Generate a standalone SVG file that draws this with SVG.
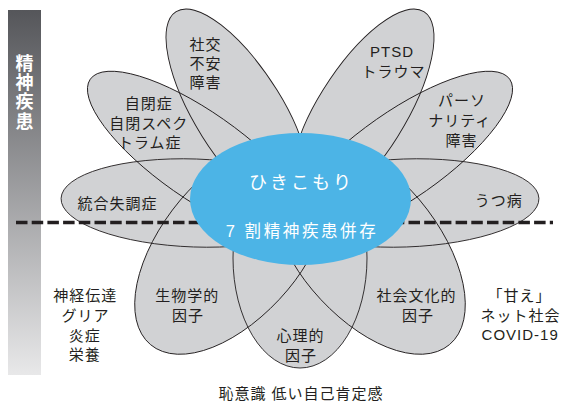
<svg xmlns="http://www.w3.org/2000/svg" xmlns:xlink="http://www.w3.org/1999/xlink" width="569" height="406" viewBox="0 0 569 406">
<defs>
<style>
.pf{fill:#d1d2d4;stroke:none}
.po{fill:none;stroke:#231f20;stroke-width:0.9}
.t{font-family:"Liberation Sans","Noto Sans CJK JP",sans-serif;font-size:15px;letter-spacing:1px;fill:#231f20;text-anchor:middle}
.w{font-family:"Liberation Sans","Noto Sans CJK JP",sans-serif;fill:#ffffff;text-anchor:middle}
.v{font-family:"Noto Sans CJK JP",sans-serif;font-size:18px;font-weight:bold;fill:#ffffff;writing-mode:vertical-rl;letter-spacing:1.3px}
</style>
<linearGradient id="bar" x1="0" y1="0" x2="0" y2="1">
<stop offset="0" stop-color="#55565a"/>
<stop offset="1" stop-color="#e8e8e9"/>
</linearGradient>
<path id="p1" transform="translate(195,203) rotate(2)" d="M -134,0 A 134,44 0 0 1 0,-44 A 134,44 0 0 1 134,0 A 134,44 0 0 1 0,44 A 134,44 0 0 1 -134,0 Z"/>
<path id="p2" transform="translate(198.4,154.9) rotate(35)" d="M -132,0 A 132,43.5 0 0 1 0,-43.5 A 138,43.5 0 0 1 138,0 A 138,43.5 0 0 1 0,43.5 A 132,43.5 0 0 1 -132,0 Z"/>
<path id="p3" transform="translate(239.7,113.4) rotate(58)" d="M -120,0 A 120,44 0 0 1 0,-44 A 110,44 0 0 1 110,0 A 110,44 0 0 1 0,44 A 120,44 0 0 1 -120,0 Z"/>
<path id="p4" transform="translate(360.3,113.4) rotate(122)" d="M -120,0 A 120,44 0 0 1 0,-44 A 110,44 0 0 1 110,0 A 110,44 0 0 1 0,44 A 120,44 0 0 1 -120,0 Z"/>
<path id="p5" transform="translate(401.6,154.9) rotate(145)" d="M -132,0 A 132,43.5 0 0 1 0,-43.5 A 138,43.5 0 0 1 138,0 A 138,43.5 0 0 1 0,43.5 A 132,43.5 0 0 1 -132,0 Z"/>
<path id="p6" transform="translate(405,203) rotate(178)" d="M -134,0 A 134,44 0 0 1 0,-44 A 134,44 0 0 1 134,0 A 134,44 0 0 1 0,44 A 134,44 0 0 1 -134,0 Z"/>
<path id="p7" transform="translate(234,245) rotate(-50)" d="M -130,0 A 130,70 0 0 1 0,-70 A 120,70 0 0 1 120,0 A 120,70 0 0 1 0,70 A 130,70 0 0 1 -130,0 Z"/>
<path id="p8" transform="translate(300,258) rotate(-90)" d="M -110,0 A 110,67 0 0 1 0,-67 A 110,67 0 0 1 110,0 A 110,67 0 0 1 0,67 A 110,67 0 0 1 -110,0 Z"/>
<path id="p9" transform="translate(366,245) rotate(-130)" d="M -130,0 A 130,70 0 0 1 0,-70 A 120,70 0 0 1 120,0 A 120,70 0 0 1 0,70 A 130,70 0 0 1 -130,0 Z"/>
</defs>
<rect width="569" height="406" fill="#ffffff"/>
<g id="axis-bar">
<rect x="8" y="10" width="33" height="365" fill="url(#bar)"/>
<text class="v" x="24.5" y="54">精神疾患</text>
</g>
<g id="petal-fills">
<use xlink:href="#p1" class="pf"/>
<use xlink:href="#p2" class="pf"/>
<use xlink:href="#p3" class="pf"/>
<use xlink:href="#p4" class="pf"/>
<use xlink:href="#p5" class="pf"/>
<use xlink:href="#p6" class="pf"/>
<use xlink:href="#p7" class="pf"/>
<use xlink:href="#p8" class="pf"/>
<use xlink:href="#p9" class="pf"/>
</g>
<g id="connectors">
<line x1="16" y1="222.5" x2="553" y2="222.5" stroke="#231f20" stroke-width="3.6" stroke-dasharray="11.5 4.2"/>
</g>
<g id="node-schizophrenia">
<use xlink:href="#p1" class="po"/>
<text class="t" x="117.5" y="208.5">統合失調症</text>
</g>
<g id="node-autism">
<use xlink:href="#p2" class="po"/>
<text class="t" x="148.8" y="108.5">自閉症</text>
<text class="t" x="148.8" y="128.5">自閉スペク</text>
<text class="t" x="149.8" y="147.5">トラム症</text>
</g>
<g id="node-social-anxiety">
<use xlink:href="#p3" class="po"/>
<text class="t" x="205.5" y="49.5">社交</text>
<text class="t" x="205.5" y="68.5">不安</text>
<text class="t" x="205.5" y="88">障害</text>
</g>
<g id="node-ptsd">
<use xlink:href="#p4" class="po"/>
<text class="t" x="392" y="56.5">PTSD</text>
<text class="t" x="393.5" y="77">トラウマ</text>
</g>
<g id="node-personality">
<use xlink:href="#p5" class="po"/>
<text class="t" x="462" y="106">パーソ</text>
<text class="t" x="459.8" y="126">ナリティ</text>
<text class="t" x="461.5" y="146">障害</text>
</g>
<g id="node-depression">
<use xlink:href="#p6" class="po"/>
<text class="t" x="498.8" y="206">うつ病</text>
</g>
<g id="node-biological">
<use xlink:href="#p7" class="po"/>
<text class="t" x="187.2" y="301">生物学的</text>
<text class="t" x="188" y="321">因子</text>
</g>
<g id="node-psychological">
<use xlink:href="#p8" class="po"/>
<text class="t" x="300.5" y="341">心理的</text>
<text class="t" x="301" y="361">因子</text>
</g>
<g id="node-sociocultural">
<use xlink:href="#p9" class="po"/>
<text class="t" x="416.5" y="301">社会文化的</text>
<text class="t" x="418" y="321">因子</text>
</g>
<g id="node-hikikomori">
<ellipse cx="300.5" cy="199" rx="110.5" ry="66" fill="#4cb4e6"/>
<text class="w" x="301.5" y="189" font-size="18" letter-spacing="3">ひきこもり</text>
<text class="w" x="302" y="237" font-size="16.5" letter-spacing="2.6">7 割精神疾患併存</text>
</g>
<g id="label-biological-notes">
<text class="t" x="85.2" y="301">神経伝達</text>
<text class="t" x="85.5" y="321">グリア</text>
<text class="t" x="84.7" y="341">炎症</text>
<text class="t" x="84.7" y="360">栄養</text>
</g>
<g id="label-sociocultural-notes">
<text class="t" x="519.5" y="301">「甘え」</text>
<text class="t" x="520.5" y="321">ネット社会</text>
<text class="t" x="520.2" y="340">COVID-19</text>
</g>
<g id="label-psychological-notes">
<text class="t" x="301" y="399">恥意識 低い自己肯定感</text>
</g>
</svg>
